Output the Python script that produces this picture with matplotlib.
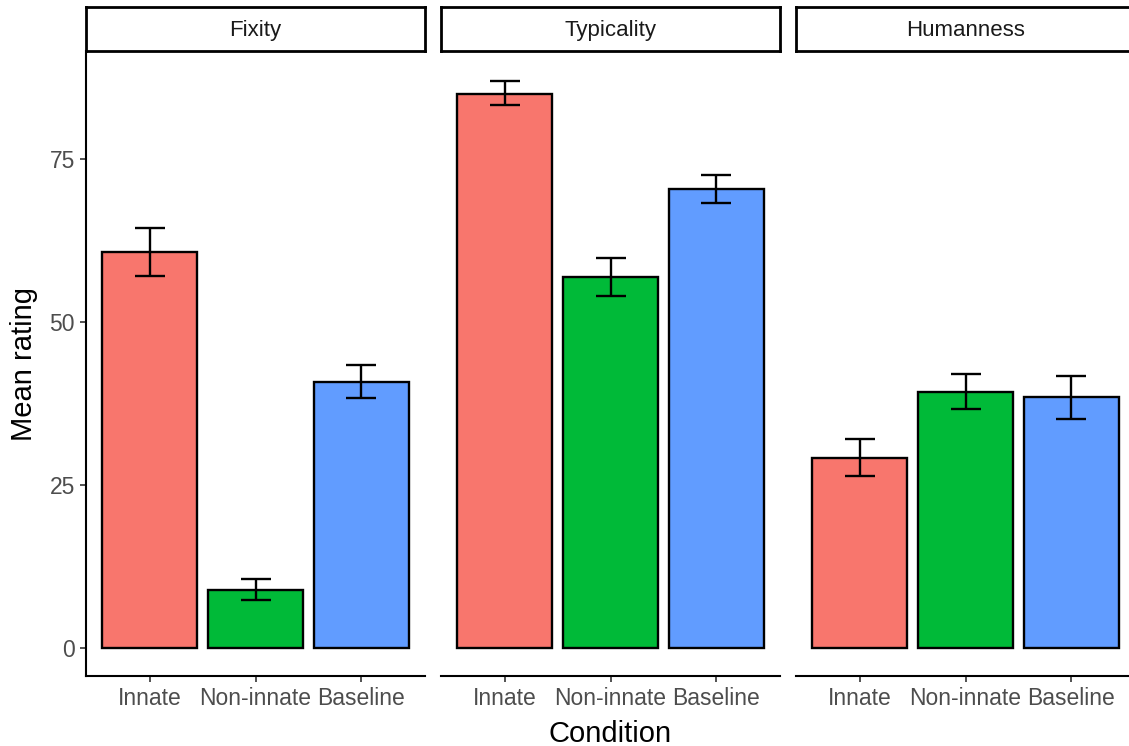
import numpy as np
import matplotlib.pyplot as plt
from matplotlib.patches import Rectangle

plt.rcParams['font.family'] = ['Liberation Sans', 'DejaVu Sans']

# data
conditions = ['Innate', 'Non-innate', 'Baseline']
measures = ['Fixity', 'Typicality', 'Humanness']
means = {
    'Fixity': [60.7, 8.9, 40.8],
    'Typicality': [85.0, 56.9, 70.4],
    'Humanness': [29.1, 39.3, 38.5],
}
lower = {
    'Fixity': [57.0, 7.3, 38.3],
    'Typicality': [83.2, 54.0, 68.3],
    'Humanness': [26.3, 36.6, 35.1],
}
upper = {
    'Fixity': [64.4, 10.5, 43.3],
    'Typicality': [87.0, 59.8, 72.5],
    'Humanness': [32.0, 42.0, 41.7],
}
colors = ['#F8766D', '#00BA38', '#619CFF']
yticks = [0, 25, 50, 75]

W, H = 1129, 746
fig = plt.figure(figsize=(W / 100, H / 100), dpi=100)

panel_left = [86, 441, 796]
panel_w = 339
top, bottom = 51, 676
strip_top = 7

for i, m in enumerate(measures):
    ax = fig.add_axes([panel_left[i] / W, 1 - bottom / H, panel_w / W, (bottom - top) / H])
    x = np.arange(1, len(conditions) + 1)
    ax.bar(x, means[m], width=0.9, color=colors, edgecolor='black', linewidth=1.7, zorder=2)
    err = [np.array(means[m]) - np.array(lower[m]), np.array(upper[m]) - np.array(means[m])]
    ax.errorbar(x, means[m], yerr=err, fmt='none', ecolor='black', elinewidth=1.7,
                capsize=10.5, capthick=1.7, zorder=3)
    ax.set_xlim(0.4, 3.6)
    ax.set_ylim(-4.36, 91.56)
    ax.set_xticks(x)
    ax.set_xticklabels(conditions, fontsize=16.5, color='#4D4D4D')
    ax.tick_params(axis='x', length=4, width=1.2, color='#333333', pad=4)
    for s in ['top', 'right']:
        ax.spines[s].set_visible(False)
    ax.spines['bottom'].set_linewidth(1.5)
    if i == 0:
        ax.set_yticks(yticks)
        ax.set_yticklabels([str(v) for v in yticks], fontsize=16.5, color='#4D4D4D')
        ax.tick_params(axis='y', length=4, width=1.2, color='#333333', pad=4)
        ax.spines['left'].set_linewidth(1.5)
        ax.set_ylabel('Mean rating', fontsize=21, labelpad=8)
    else:
        ax.spines['left'].set_visible(False)
        ax.set_yticks([])
    if i == 1:
        ax.set_xlabel('Condition', fontsize=21, labelpad=7)

    # facet strip
    sax = fig.add_axes([panel_left[i] / W, 1 - top / H, panel_w / W, (top - strip_top) / H])
    sax.set_xticks([])
    sax.set_yticks([])
    for s in sax.spines.values():
        s.set_linewidth(2)
    sax.text(0.5, 0.46, m, ha='center', va='center', fontsize=16, color='#1A1A1A',
             transform=sax.transAxes)

fig.savefig('out.png', dpi=100)
